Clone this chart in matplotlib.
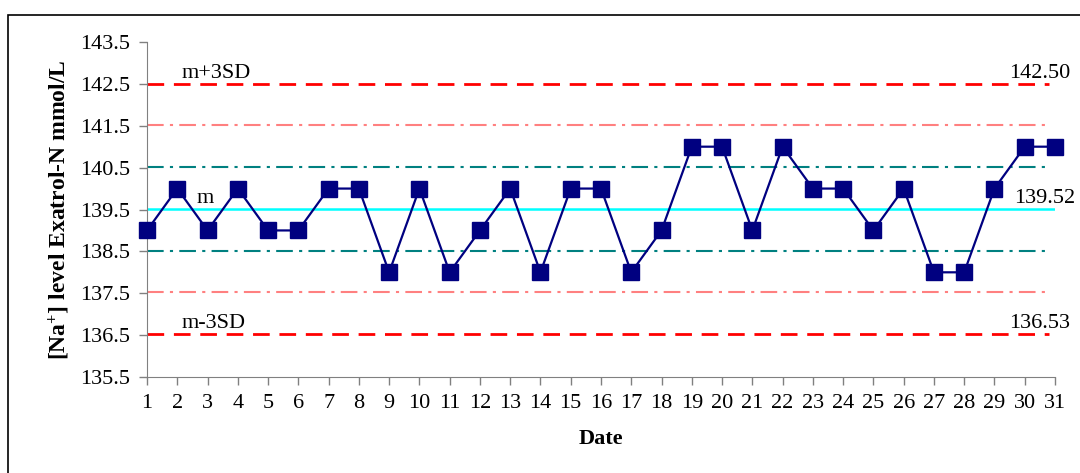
import numpy as np
import matplotlib.pyplot as plt
from matplotlib.patches import Rectangle

# daily [Na+] results, Exatrol-N control
days = np.arange(1, 32)
na_values = [139, 140, 139, 140, 139, 139, 140, 140, 138, 140,
             138, 139, 140, 138, 140, 140, 138, 139, 141, 141,
             139, 141, 140, 140, 139, 140, 138, 138, 140, 141, 141]

y_ticks = [135.5, 136.5, 137.5, 138.5, 139.5, 140.5, 141.5, 142.5, 143.5]

mean = np.mean(na_values)
sd = np.std(na_values, ddof=1)

plt.rcParams['font.family'] = ['Liberation Serif', 'DejaVu Serif']
plt.rcParams['mathtext.default'] = 'regular'

fig = plt.figure(figsize=(10.8, 4.73), dpi=100)
ax = fig.add_axes([147 / 1080, 1 - 377 / 473, (1055 - 147) / 1080, (377 - 42) / 473])

# outer frame
fig.patches.append(Rectangle((8 / 1080, -0.05), 1.2, 1 - 15 / 473 + 0.05,
                             transform=fig.transFigure, fill=False,
                             edgecolor='black', linewidth=1.2))

x_line = [days[0], days[-1] - 0.2]
dashdot = (0, (8, 3, 1.5, 3))
ax.plot(x_line, [mean + 3 * sd] * 2, color='#FF0000', lw=2, ls=(0, (6, 3.5)))
ax.plot(x_line, [mean - 3 * sd] * 2, color='#FF0000', lw=2, ls=(0, (6, 3.5)))
ax.plot(x_line, [mean + 2 * sd] * 2, color='#FF8080', lw=1.5, ls=dashdot)
ax.plot(x_line, [mean - 2 * sd] * 2, color='#FF8080', lw=1.5, ls=dashdot)
ax.plot(x_line, [mean + sd] * 2, color='#008080', lw=1.5, ls=dashdot)
ax.plot(x_line, [mean - sd] * 2, color='#008080', lw=1.5, ls=dashdot)
ax.plot([days[0], days[-1]], [mean] * 2, color='#00FFFF', lw=1.8)

ax.plot(days, na_values, color='#000080', lw=1.6, marker='s',
        markersize=11, markerfacecolor='#000080', markeredgecolor='#000080',
        clip_on=False, zorder=5)

# labels on the control lines
fs = 16
ax.text(2.15, mean + 3 * sd + 0.02, 'm+3SD', fontsize=fs, va='bottom')
ax.text(2.65, mean + 0.02, 'm', fontsize=fs, va='bottom')
ax.text(2.15, mean - 3 * sd + 0.02, 'm-3SD', fontsize=fs, va='bottom')
ax.text(29.5, mean + 3 * sd + 0.02, f'{mean + 3 * sd:.2f}', fontsize=fs, va='bottom')
ax.text(29.65, mean + 0.02, f'{mean:.2f}', fontsize=fs, va='bottom')
ax.text(29.5, mean - 3 * sd + 0.02, f'{mean - 3 * sd:.2f}', fontsize=fs, va='bottom')

ax.set_xlim(1, 31)
ax.set_ylim(135.5, 143.5)
ax.set_xticks(days)
ax.set_yticks(y_ticks)
ax.set_yticklabels([f'{t:.1f}' for t in y_ticks])
ax.tick_params(axis='both', labelsize=fs, color='#808080', length=6, width=1)
ax.tick_params(axis='x', pad=6)
ax.tick_params(axis='y', pad=6)

for side in ['top', 'right']:
    ax.spines[side].set_visible(False)
for side in ['left', 'bottom']:
    ax.spines[side].set_color('#808080')

ax.set_xlabel('Date', fontsize=fs, fontweight='bold', labelpad=12)
ax.set_ylabel(r'[Na$^{+}$] level Exatrol-N mmol/L', fontsize=17,
              fontweight='bold', labelpad=6)

fig.savefig('out.png', dpi=100)
